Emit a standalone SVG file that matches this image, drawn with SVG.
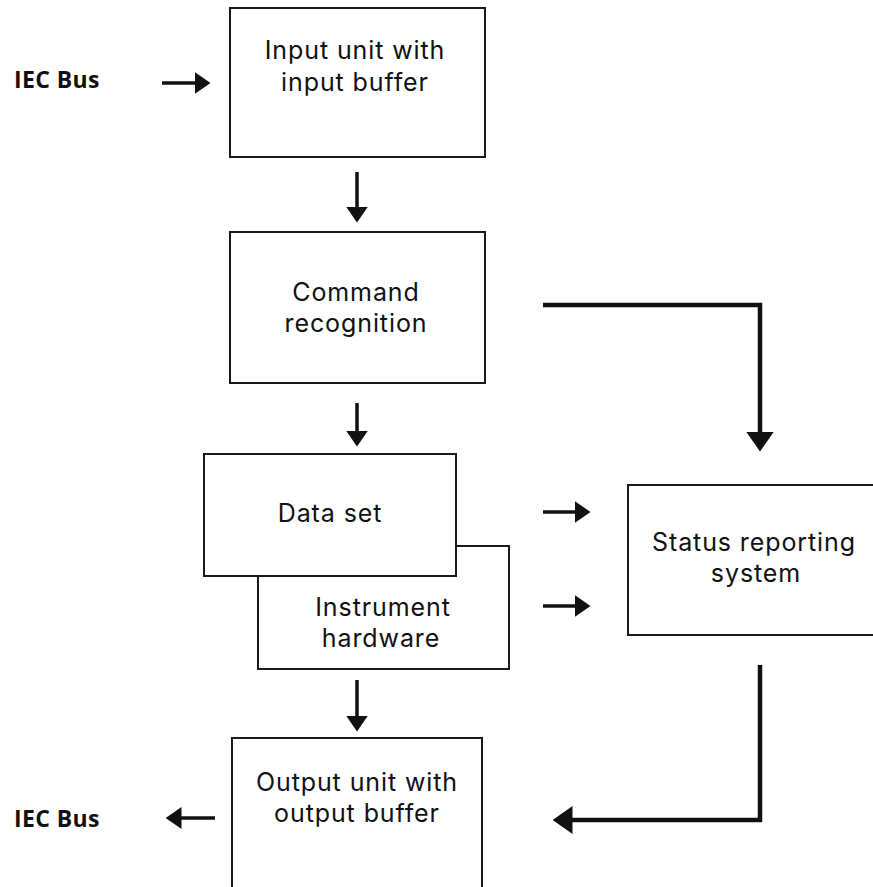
<svg xmlns="http://www.w3.org/2000/svg" width="873" height="887" viewBox="0 0 873 887">
<style>
.box{fill:#fff;stroke:#1a1a1a;stroke-width:2}
.t{font-family:Inter,"Open Sans","Liberation Sans",sans-serif;font-size:25px;letter-spacing:0.9px;fill:#111;text-anchor:middle}
.lb{font-family:"Open Sans","Liberation Sans",sans-serif;font-size:23px;font-weight:bold;letter-spacing:0.4px;fill:#111}
.c{fill:none;stroke:#111;stroke-width:3.5}
.cw{fill:none;stroke:#111;stroke-width:4.5}
</style>
<defs>
<marker id="a" markerUnits="userSpaceOnUse" viewBox="0 0 16 22" markerWidth="16" markerHeight="22" refX="0.5" refY="11" orient="auto"><path d="M0,0 L16,11 L0,22 z" fill="#111"/></marker>
<marker id="b" markerUnits="userSpaceOnUse" viewBox="0 0 20 28" markerWidth="20" markerHeight="28" refX="0.5" refY="14" orient="auto"><path d="M0,0 L20,14 L0,28 z" fill="#111"/></marker>
</defs>
<rect width="873" height="887" fill="#fff"/>
<g id="iec-in"><text class="lb" x="14" y="88">IEC Bus</text></g>
<g id="iec-out"><text class="lb" x="14" y="827">IEC Bus</text></g>
<g id="input-unit"><rect class="box" x="230" y="8" width="255" height="149"/><text class="t" x="355" y="59">Input unit with</text><text class="t" x="355" y="91">input buffer</text></g>
<g id="command"><rect class="box" x="230" y="232" width="255" height="151"/><text class="t" x="356" y="301">Command</text><text class="t" x="356" y="332">recognition</text></g>
<g id="instrument"><rect class="box" x="258" y="546" width="251" height="123"/><text class="t" x="383" y="616">Instrument</text><text class="t" x="381" y="647">hardware</text></g>
<g id="dataset"><rect class="box" x="204" y="454" width="252" height="122"/><text class="t" x="330" y="522">Data set</text></g>
<g id="status"><rect class="box" x="628" y="485" width="260" height="150"/><text class="t" x="754" y="551">Status reporting</text><text class="t" x="756" y="582">system</text></g>
<g id="output-unit"><rect class="box" x="232" y="738" width="250" height="170"/><text class="t" x="357" y="791">Output unit with</text><text class="t" x="357" y="822">output buffer</text></g>
<g id="connectors">
<path class="c" d="M162,83 H195" marker-end="url(#a)"/>
<path class="c" d="M357,172 V207" marker-end="url(#a)"/>
<path class="c" d="M357,403 V431" marker-end="url(#a)"/>
<path class="c" d="M357,680 V716" marker-end="url(#a)"/>
<path class="c" d="M543,512 H575" marker-end="url(#a)"/>
<path class="c" d="M543,606 H575" marker-end="url(#a)"/>
<path class="c" d="M215,818 H181" marker-end="url(#a)"/>
<path class="cw" d="M543,305 H760 V432" marker-end="url(#b)"/>
<path class="cw" d="M760,665 V820 H572" marker-end="url(#b)"/>
</g>
</svg>
